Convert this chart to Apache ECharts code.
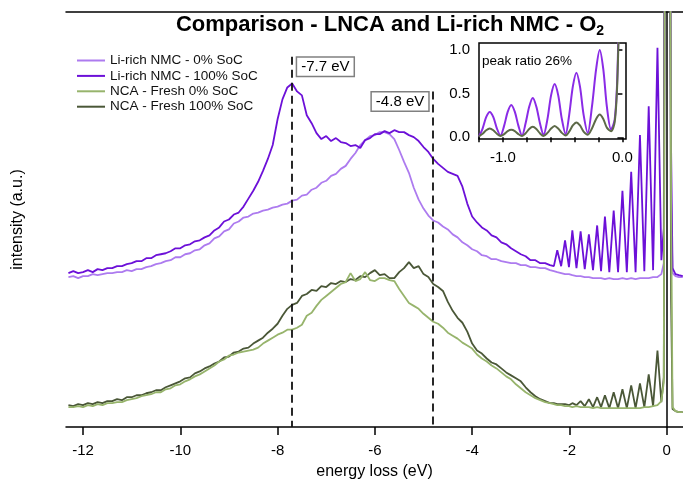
<!DOCTYPE html>
<html><head><meta charset="utf-8">
<script src="https://cdn.jsdelivr.net/npm/echarts@6/dist/echarts.min.js"></script>
<style>html,body{margin:0;padding:0;background:#fff}#c{width:683px;height:485px}</style>
</head><body><div id="c"></div>
<script>
// ---------- data ----------
const seriesNames = ['Li-rich NMC - 0% SoC', 'Li-rich NMC - 100% SoC', 'NCA - Fresh 0% SoC', 'NCA - Fresh 100% SoC'];

// energy loss grid (eV): broad part + vibrational / elastic part
const energyBroad = [
-12.3,-12.2,-12.1,-12.0,-11.9,-11.8,-11.7,-11.6,-11.5,-11.4,
-11.3,-11.2,-11.1,-11.0,-10.9,-10.8,-10.7,-10.6,-10.5,-10.4,
-10.3,-10.2,-10.1,-10.0,-9.9,-9.8,-9.7,-9.6,-9.5,-9.4,
-9.3,-9.2,-9.1,-9.0,-8.9,-8.8,-8.7,-8.6,-8.5,-8.4,
-8.3,-8.2,-8.1,-8.0,-7.9,-7.8,-7.7,-7.6,-7.5,-7.4,
-7.3,-7.2,-7.1,-7.0,-6.9,-6.8,-6.7,-6.6,-6.5,-6.4,
-6.3,-6.2,-6.1,-6.0,-5.9,-5.8,-5.7,-5.6,-5.5,-5.4,
-5.3,-5.2,-5.1,-5.0,-4.9,-4.8,-4.7,-4.6,-4.5,-4.4,
-4.3,-4.2,-4.1,-4.0,-3.9,-3.8,-3.7,-3.6,-3.5,-3.4,
-3.3,-3.2,-3.1,-3.0,-2.9,-2.8,-2.7,-2.6,-2.5,-2.4];
const energyVib = [-2.32,-2.25,-2.17,-2.09,-2.01,-1.94,-1.855,-1.77,-1.685,-1.60,
-1.515,-1.43,-1.35,-1.27,-1.18,-1.09,-1.00,-0.91,-0.82,-0.73,
-0.64,-0.55,-0.46,-0.37,-0.28,-0.19,-0.11,-0.06,-0.03,0.00,
0.03,0.06,0.09,0.12,0.18,0.25,0.33];

// intensity (a.u.) - Li-rich NMC 0% SoC
const nmc0Broad = [
151,152,150,152,152,154,153,154,155,155,
156,156,158,157,159,159,161,162,164,165,
167,168,171,171,174,175,178,179,183,185,
190,192,197,199,205,207,211,212,215,216,
218,219,221,222,224,225,228,229,233,234,
239,241,246,248,253,255,260,263,270,276,
284,289,293,294,297,297,295,290,279,267,
256,241,229,220,213,208,206,202,199,194,
191,186,183,179,177,173,172,169,169,167,
166,165,165,163,163,161,161,160,160,158];
const nmc0Vib = [157,156,155,154,154,153,152,152,151,151,
150,150,150,149,150,149,149,150,149,150,
149,150,150,150,151,151,154,165,730,1930,
1430,730,230,155,152,151,151];

// Li-rich NMC 100% SoC
const nmc100Broad = [
155,157,155,156,158,156,159,158,160,160,
162,162,164,165,167,167,170,170,173,174,
175,177,180,180,183,184,187,188,191,193,
198,201,207,209,214,216,222,230,238,247,
258,270,284,310,330,342,346,338,334,314,
306,296,290,293,288,291,287,286,283,284,
281,289,291,295,295,298,296,299,297,297,
294,292,288,282,277,270,265,261,257,255,
253,242,225,212,206,201,198,193,191,186,
184,180,177,174,172,168,168,165,165,163];
const nmc100Vib = [162,178,162,188,161,198,160,197,159,194,
158,203,157,212,156,218,156,238,156,257,
156,294,157,323,158,382,168,200,730,1930,
1430,730,280,160,154,153,152];

// NCA Fresh 0% SoC
const nca0Broad = [
20,20,21,20,22,21,23,22,24,24,
25,25,27,28,29,31,32,33,35,35,
38,39,42,43,46,48,51,53,56,59,
62,66,68,72,73,75,76,77,78,80,
84,87,90,93,95,98,98,100,103,112,
115,122,128,132,136,140,144,146,155,147,
149,156,148,147,150,150,148,147,139,132,
125,122,119,114,110,106,104,100,95,92,
89,85,82,79,73,69,66,62,59,55,
51,48,43,39,35,32,29,27,25,24];
const nca0Vib = [23,22,22,21,21,20,21,20,20,20,
19,20,19,19,19,19,19,19,19,19,
19,19,20,20,21,22,26,45,730,1930,
1430,830,230,20,16,15,15];

// NCA Fresh 100% SoC
const nca100Broad = [
22,21,23,22,24,23,25,24,26,26,
28,27,30,30,32,32,34,35,37,37,
40,42,44,46,49,50,54,56,59,61,
64,66,70,71,75,76,79,80,84,87,
90,95,99,104,112,119,123,125,132,134,
138,137,142,141,145,144,147,146,149,148,
152,151,155,158,153,154,150,150,156,160,
166,160,162,154,151,144,141,137,126,117,
110,105,96,84,77,74,69,65,63,59,
55,52,49,46,40,35,31,28,26,24];
const nca100Vib = [24,23,23,23,22,24,22,26,21,28,
20,30,20,32,19,35,19,38,19,42,
19,44,20,53,21,77,25,50,730,1930,
1430,630,130,18,16,15,15];

// main x-axis ticks
const xTicks = [-12,-10,-8,-6,-4,-2,0];

// annotations: energy (eV), label, top of dashed marker (a.u.), label side
const annotations = [
  {energy:-7.7, label:'-7.7 eV', top:373, side:'right'},
  {energy:-4.8, label:'-4.8 eV', top:338, side:'left'}
];

// inset: zoom of the vibrational progression, normalized
const insetEnergy = [-1.20,-1.17,-1.14,-1.11,-1.08,-1.05,-1.02,-0.99,-0.96,-0.93,
-0.90,-0.87,-0.84,-0.81,-0.78,-0.75,-0.72,-0.69,-0.66,-0.627,
-0.597,-0.567,-0.537,-0.507,-0.475,-0.445,-0.415,-0.385,-0.355,-0.325,
-0.29,-0.255,-0.22,-0.19,-0.16,-0.13,-0.095,-0.065,-0.045,-0.03,0.03];
const insetNMC = [0.01,0.10,0.23,0.29,0.23,0.10,0.02,0.13,0.29,0.37,
0.29,0.13,0.02,0.16,0.35,0.45,0.35,0.16,0.025,0.21,
0.48,0.61,0.48,0.21,0.035,0.26,0.58,0.74,0.58,0.26,
0.05,0.35,0.78,1.00,0.78,0.35,0.09,0.2,0.6,1.3,3.0];
const insetNCA = [0.01,0.04,0.08,0.10,0.08,0.04,0.015,0.035,0.07,0.085,
0.07,0.035,0.015,0.045,0.095,0.12,0.095,0.045,0.015,0.05,
0.10,0.13,0.10,0.05,0.02,0.065,0.135,0.17,0.135,0.065,
0.03,0.10,0.21,0.26,0.21,0.11,0.07,0.17,0.55,1.2,3.0];
const insetXTicks = [-1.2,-1.0,-0.8,-0.6,-0.4,-0.2,0.0];
const insetXLabels = [-1.0, 0.0];
const insetYTicks = [0.0, 0.5, 1.0];

// ---------- chart ----------
const FONT = "'Liberation Sans', Arial, sans-serif";
const colors = ['#ad7bef', '#6c10d8', '#97b46c', '#4a5737'];
const energy = energyBroad.concat(energyVib);
const zip = (xs, ys) => xs.map((x, i) => [x, ys[i]]);
const mainData = [
  nmc0Broad.concat(nmc0Vib),
  nmc100Broad.concat(nmc100Vib),
  nca0Broad.concat(nca0Vib),
  nca100Broad.concat(nca100Vib)
];
const drawOrder = [0, 1, 3, 2];

const mainSeries = drawOrder.map(i => ({
  name: seriesNames[i], type: 'line', xAxisIndex: 0, yAxisIndex: 0,
  data: zip(energy, mainData[i]), symbol: 'none', showSymbol: false,
  lineStyle: {color: colors[i], width: 1.8}, itemStyle: {color: colors[i]},
  clip: true, z: 3
}));

mainSeries.push({
  name: 'annotations', type: 'line', xAxisIndex: 0, yAxisIndex: 0, data: [], symbol: 'none',
  markLine: {
    silent: true, symbol: ['none', 'none'], label: {show: false},
    lineStyle: {color: '#111', width: 1.8, type: [8, 5]},
    data: annotations.map(a => [{coord: [a.energy, a.top]}, {coord: [a.energy, 0]}])
  },
  markPoint: {
    silent: true,
    data: annotations.map(a => ({
      coord: [a.energy, a.top], symbol: 'rect', symbolSize: 0,
      itemStyle: {color: 'transparent'},
      label: {show: true, position: a.side, distance: 5, offset: [0, 10], formatter: a.label,
        color: '#000', fontSize: 15, fontFamily: FONT, backgroundColor: '#fff',
        borderColor: '#808080', borderWidth: 1.5, padding: [2, 4, 1, 4]}
    }))
  }
});

const insetSeries = [
  {name: 'inset NMC', type: 'line', xAxisIndex: 2, yAxisIndex: 1, data: zip(insetEnergy, insetNMC),
   symbol: 'none', smooth: 0.3, lineStyle: {color: '#8a2be6', width: 2}, clip: true, z: 12,
   markLine: {silent: true, symbol: ['none','none'], label: {show: false},
     lineStyle: {color: '#555', width: 1, type: 'dotted'},
     data: insetYTicks.map(v => ({yAxis: v}))}},
  {name: 'inset NCA', type: 'line', xAxisIndex: 2, yAxisIndex: 1, data: zip(insetEnergy, insetNCA),
   symbol: 'none', smooth: 0.3, lineStyle: {color: '#5d6a48', width: 2}, clip: true, z: 12}
];

const chart = echarts.init(document.getElementById('c'), null, {renderer: 'canvas'});
chart.setOption({
  animation: false,
  backgroundColor: '#fff',
  textStyle: {fontFamily: FONT},
  grid: [
    {left: 66, right: 0, top: 12, bottom: 55},
    {left: 479, top: 43, width: 147, height: 96, show: true, borderColor: '#000', borderWidth: 1.5, backgroundColor: '#fff', z: 10}
  ],
  legend: {
    data: seriesNames, orient: 'vertical', left: 77, top: 53, padding: 0,
    icon: 'rect', itemWidth: 28, itemHeight: 2, itemGap: 0.4,
    textStyle: {fontSize: 13.5, color: '#111', lineHeight: 15, fontFamily: FONT},
    selectedMode: false
  },
  xAxis: [
    {gridIndex: 0, type: 'value', min: -12.35, max: 0.335,
     axisLine: {lineStyle: {color: '#000', width: 1.5}},
     axisTick: {customValues: xTicks, length: 8, lineStyle: {color: '#000', width: 1.5}},
     axisLabel: {customValues: xTicks, margin: 16, fontSize: 15, color: '#000', fontFamily: FONT},
     splitLine: {show: false},
     name: 'energy loss (eV)', nameLocation: 'middle', nameGap: 37,
     nameTextStyle: {fontSize: 16, color: '#000', fontFamily: FONT}},
    {gridIndex: 0, type: 'value', position: 'top', min: -12.35, max: 0.335,
     axisLine: {show: true, lineStyle: {color: '#000', width: 1.5}},
     axisTick: {show: false}, axisLabel: {show: false}, splitLine: {show: false}},
    {gridIndex: 1, type: 'value', min: -1.2, max: 0.03,
     axisLine: {show: false},
     axisTick: {customValues: insetXTicks, length: 5, lineStyle: {color: '#000', width: 1.5}},
     axisLabel: {customValues: insetXLabels, margin: 11, fontSize: 15, color: '#000', fontFamily: FONT,
                 formatter: v => v.toFixed(1)},
     splitLine: {show: false}, z: 11}
  ],
  yAxis: [
    {gridIndex: 0, type: 'value', min: 0, max: 418,
     axisLine: {show: true, lineStyle: {color: '#000', width: 1.5}},
     axisTick: {show: false}, axisLabel: {show: false}, splitLine: {show: false},
     name: 'intensity (a.u.)', nameLocation: 'middle', nameGap: 40,
     nameTextStyle: {fontSize: 16, color: '#000', fontFamily: FONT}},
    {gridIndex: 1, type: 'value', min: -0.02, max: 1.08,
     axisLine: {show: false},
     axisTick: {customValues: insetYTicks, length: 5, lineStyle: {color: '#000', width: 1.5}},
     axisLabel: {customValues: insetYTicks, margin: 9, fontSize: 15, color: '#000', fontFamily: FONT,
                 formatter: v => v.toFixed(1)},
     splitLine: {show: false}, z: 11}
  ],
  graphic: [
    {type: 'text', x: 390, y: 25, z: 100,
     style: {text: '{a|Comparison - LNCA and Li-rich NMC - O}{s|2}', align: 'center', verticalAlign: 'middle',
       rich: {
         a: {fontSize: 22, fontWeight: 'bold', fontFamily: FONT, fill: '#000', lineHeight: 26, verticalAlign: 'middle'},
         s: {fontSize: 14, fontWeight: 'bold', fontFamily: FONT, fill: '#000', lineHeight: 13, verticalAlign: 'bottom'}
       }}},
    {type: 'text', x: 482, y: 61, z: 100,
     style: {text: 'peak ratio 26%', fontSize: 13.5, fontFamily: FONT, fill: '#000', verticalAlign: 'middle'}}
  ],
  series: mainSeries.concat(insetSeries)
});
</script>
</body></html>
